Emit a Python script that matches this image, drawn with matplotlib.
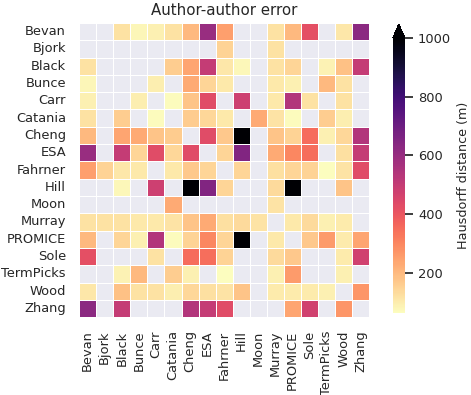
import numpy as np
import matplotlib
matplotlib.use('Agg')
import matplotlib.pyplot as plt
import seaborn as sns

sns.set_theme(style='darkgrid')
plt.rcParams['font.family'] = ['DejaVu Sans']

authors = ['Bevan', 'Bjork', 'Black', 'Bunce', 'Carr', 'Catania', 'Cheng', 'ESA',
           'Fahrner', 'Hill', 'Moon', 'Murray', 'PROMICE', 'Sole', 'TermPicks',
           'Wood', 'Zhang']

# pairwise Hausdorff distance (m), upper triangle; matrix is symmetric
pair_a = ['Bevan', 'Bevan', 'Bevan', 'Bevan', 'Bevan', 'Bevan', 'Bevan', 'Bevan',
          'Bevan', 'Bevan', 'Bevan', 'Bevan',
          'Bjork', 'Bjork',
          'Black', 'Black', 'Black', 'Black', 'Black', 'Black', 'Black', 'Black',
          'Black', 'Black',
          'Bunce', 'Bunce', 'Bunce', 'Bunce', 'Bunce', 'Bunce', 'Bunce', 'Bunce',
          'Carr', 'Carr', 'Carr', 'Carr', 'Carr', 'Carr', 'Carr', 'Carr',
          'Catania', 'Catania', 'Catania', 'Catania', 'Catania', 'Catania',
          'Catania', 'Catania',
          'Cheng', 'Cheng', 'Cheng', 'Cheng', 'Cheng', 'Cheng', 'Cheng', 'Cheng',
          'Cheng',
          'ESA', 'ESA', 'ESA', 'ESA', 'ESA', 'ESA', 'ESA',
          'Fahrner', 'Fahrner', 'Fahrner', 'Fahrner', 'Fahrner', 'Fahrner',
          'Fahrner', 'Fahrner',
          'Hill', 'Hill', 'Hill',
          'Moon',
          'Murray', 'Murray', 'Murray', 'Murray',
          'PROMICE', 'PROMICE', 'PROMICE', 'PROMICE',
          'Sole', 'Sole',
          'TermPicks',
          'Wood']
pair_b = ['Black', 'Bunce', 'Carr', 'Catania', 'Cheng', 'ESA', 'Fahrner', 'Murray',
          'PROMICE', 'Sole', 'Wood', 'Zhang',
          'Fahrner', 'Murray',
          'Catania', 'Cheng', 'ESA', 'Fahrner', 'Hill', 'Murray', 'PROMICE',
          'TermPicks', 'Wood', 'Zhang',
          'Carr', 'Cheng', 'ESA', 'Fahrner', 'Murray', 'PROMICE', 'TermPicks', 'Wood',
          'Catania', 'Cheng', 'ESA', 'Hill', 'Murray', 'PROMICE', 'Sole', 'Wood',
          'Cheng', 'ESA', 'Fahrner', 'Moon', 'Murray', 'PROMICE', 'TermPicks', 'Wood',
          'ESA', 'Fahrner', 'Hill', 'Murray', 'PROMICE', 'Sole', 'TermPicks', 'Wood',
          'Zhang',
          'Fahrner', 'Hill', 'Murray', 'PROMICE', 'Sole', 'Wood', 'Zhang',
          'Hill', 'Murray', 'PROMICE', 'Sole', 'TermPicks', 'Wood', 'Zhang', 'Bjork',
          'Murray', 'PROMICE', 'Wood',
          'Murray',
          'PROMICE', 'Sole', 'TermPicks', 'Wood',
          'Sole', 'TermPicks', 'Wood', 'Zhang',
          'Wood', 'Zhang',
          'Wood',
          'Zhang']
pair_dist = [120, 80, 90, 120, 200, 600, 250, 120, 200, 420, 110, 630,
             150, 120,
             160, 240, 500, 110, 75, 120, 145, 85, 185, 500,
             95, 230, 145, 105, 105, 90, 200, 120,
             70, 180, 430, 480, 105, 540, 120, 120,
             165, 140, 105, 230, 115, 70, 160, 95,
             430, 170, 1050, 180, 150, 350, 90, 140, 540,
             145, 650, 230, 300, 345, 125, 500,
             145, 125, 145, 150, 63, 115, 430, 150,
             135, 1050, 180,
             115,
             105, 135, 90, 100,
             170, 260, 100, 240,
             100, 470,
             90,
             270]

n = len(authors)
errors = np.full((n, n), np.nan)
for a, b, d in zip(pair_a, pair_b, pair_dist):
    i, j = authors.index(a), authors.index(b)
    errors[i, j] = d
    errors[j, i] = d

fig = plt.figure(figsize=(4.71, 3.95), dpi=100)
ax = fig.add_axes([0.168, 0.197, 0.616, 0.745])
cax = fig.add_axes([0.834, 0.2076, 0.0255, 0.7316])

sns.heatmap(errors, ax=ax, cbar_ax=cax, cmap='magma_r', vmax=1000,
            linewidths=0.7, linecolor='white',
            xticklabels=authors, yticklabels=authors,
            cbar_kws={'extend': 'max', 'label': 'Hausdorff distance (m)'})
ax.grid(False)
ax.set_title('Author-author error', fontsize=10.8, color='.15')
ax.tick_params(axis='x', labelsize=9.4, rotation=90, colors='.15')
ax.tick_params(axis='y', labelsize=9.4, rotation=0, colors='.15')
cax.tick_params(labelsize=9.4, colors='.15')
cax.yaxis.label.set_size(9.2)
cax.set_yticks([200, 400, 600, 800, 1000])

fig.savefig('out.png', dpi=100)
